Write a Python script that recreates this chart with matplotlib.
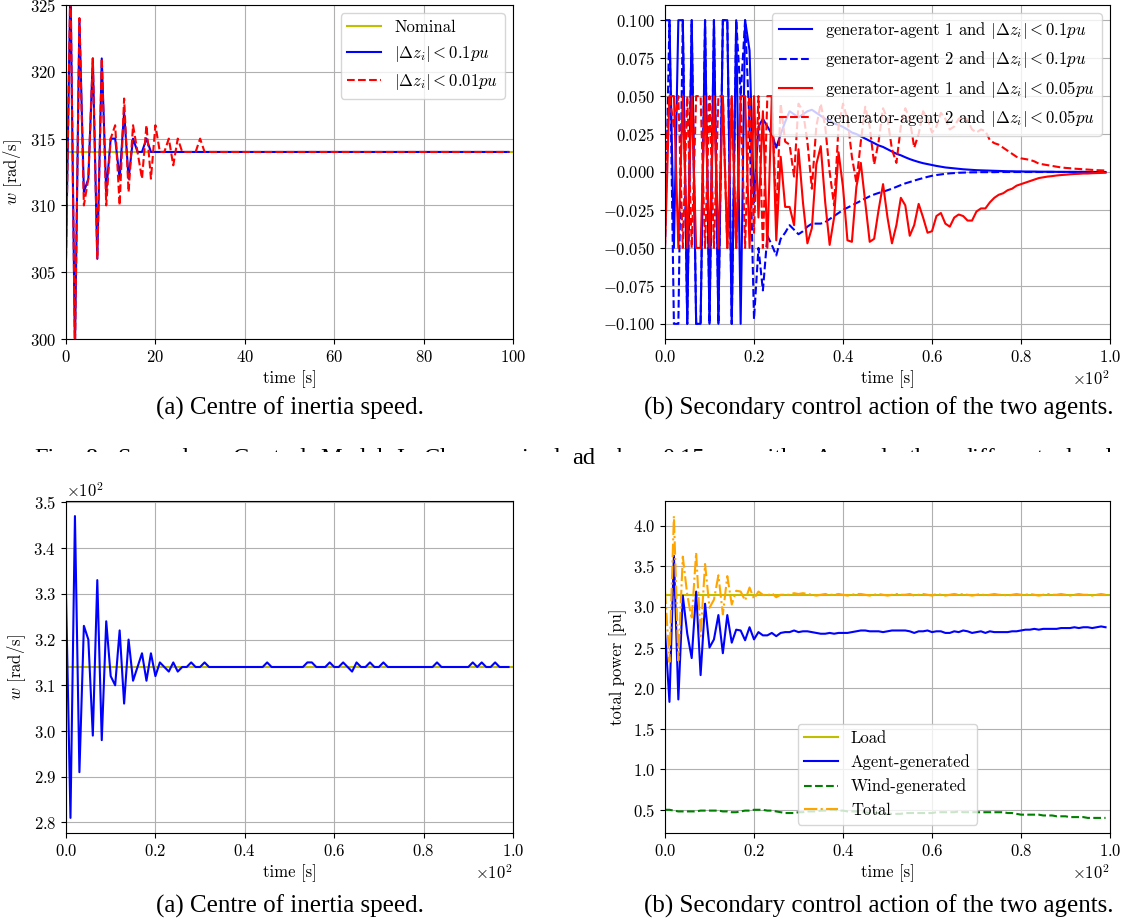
import numpy as np
import matplotlib
matplotlib.use("Agg")
import matplotlib.pyplot as plt
from matplotlib.transforms import Bbox

plt.rcParams.update({
    "font.family": "serif",
    "font.serif": ["cmr10"],
    "mathtext.fontset": "cm",
    "axes.formatter.use_mathtext": True,
    "font.size": 12,
})

# ---------------- data: (a) top, centre of inertia speed ----------------
nominal_top = 314
w_dz01 = [306, 327, 299, 324, 311, 312, 321, 306, 321, 311, 315, 315, 312, 317, 312, 315,
          314, 314, 315, 314] + [314] * 80
w_dz001 = [306, 327, 299, 324, 310, 312, 321, 306, 321, 310, 315, 316, 310, 318, 311, 316,
           314, 312, 316, 312, 316, 314, 314, 315, 313, 315, 314, 314, 314, 314, 315, 314] + [314] * 68

# ---------------- data: (b) top, secondary control action ----------------
ga1_01 = [0.1, 0.1, -0.05, 0.1, 0.1, -0.1, 0.1, -0.1, -0.1, 0.1, -0.1, 0.1, -0.1, 0.1, 0.1,
          -0.1, 0.1, -0.1, 0.1, 0.08, -0.02, 0.03, 0.035, 0.03, 0.025, 0.016, 0.025, 0.033,
          0.040, 0.038, 0.036, 0.038, 0.040, 0.041, 0.039, 0.037, 0.035, 0.034, 0.032, 0.031,
          0.0297, 0.028, 0.026, 0.025, 0.0235, 0.022, 0.0205, 0.019, 0.0175, 0.0165, 0.015,
          0.0135, 0.012, 0.011, 0.0097, 0.0085, 0.0075, 0.0066, 0.0058, 0.0052, 0.0046, 0.004,
          0.0035, 0.003, 0.0027, 0.0024, 0.0021, 0.0018, 0.0016, 0.0014, 0.0012, 0.0011, 0.001,
          0.0009, 0.0008, 0.0007, 0.0006, 0.0005, 0.0005, 0.0004, 0.0004, 0.0003, 0.0003,
          0.0003, 0.0002, 0.0002, 0.0002, 0.0002, 0.0001, 0.0001, 0.0001, 0.0001, 0.0001,
          0.0001, 0.0001, 0.0, 0.0, 0.0, 0.0, 0.0]
ga2_01 = [-0.05, 0.1, -0.1, -0.1, 0.1, -0.1, 0.1, -0.1, -0.1, 0.1, -0.1, 0.1, -0.1, 0.1, 0.1,
          -0.1, 0.1, 0.05, 0.1, 0.03, -0.097, -0.05, -0.078, -0.042, -0.048, -0.055, -0.044,
          -0.040, -0.035, -0.038, -0.041, -0.039, -0.036, -0.034, -0.034, -0.034, -0.033,
          -0.031, -0.029, -0.027, -0.025, -0.0235, -0.022, -0.0205, -0.019, -0.0175, -0.016,
          -0.0148, -0.0138, -0.013, -0.012, -0.011, -0.0098, -0.0086, -0.0075, -0.0066,
          -0.0057, -0.0048, -0.004, -0.0032, -0.0025, -0.002, -0.0016, -0.0012, -0.0009,
          -0.0007, -0.0005, -0.0004, -0.0003, -0.0002, -0.0002, -0.0001, -0.0001, -0.0001,
          -0.0001, 0.0, 0.0, 0.0, 0.0, 0.0, 0.0, 0.0, 0.0, 0.0, 0.0, 0.0, 0.0, 0.0, 0.0, 0.0,
          0.0, 0.0, 0.0, 0.0, 0.0, 0.0, 0.0, 0.0, 0.0, 0.0]
ga1_005 = [-0.05, 0.05, 0.05, -0.05, 0.05, -0.05, 0.05, -0.05, -0.05, 0.05, -0.05, 0.05, -0.05,
           0.05, -0.05, 0.05, -0.05, 0.05, 0.05, -0.05, 0.05, -0.03, 0.04, -0.05, 0.05, -0.045,
           0.01, -0.023, -0.023, -0.035, 0.015, -0.02, -0.047, -0.037, 0.005, 0.017, -0.02,
           -0.048, -0.03, 0.013, -0.01, -0.045, -0.046, -0.01, 0.006, -0.02, -0.046, -0.044,
           -0.025, -0.008, -0.03, -0.047, -0.035, -0.017, -0.022, -0.042, -0.035, -0.021,
           -0.03, -0.04, -0.039, -0.029, -0.027, -0.034, -0.036, -0.03, -0.028, -0.029, -0.032,
           -0.032, -0.026, -0.024, -0.024, -0.02, -0.017, -0.015, -0.014, -0.012, -0.011,
           -0.009, -0.008, -0.007, -0.006, -0.005, -0.004, -0.0035, -0.003, -0.0027, -0.0023,
           -0.002, -0.0018, -0.0015, -0.0013, -0.0012, -0.001, -0.001, -0.0008, -0.0007,
           -0.0006, -0.0005]
ga2_005 = [0.0, 0.05, 0.03, 0.05, -0.05, 0.05, -0.05, 0.05, 0.05, -0.05, 0.05, -0.05, 0.05,
           0.05, -0.05, 0.05, -0.05, 0.05, -0.05, 0.05, -0.04, 0.05, -0.05, 0.05, 0.05, -0.03,
           0.045, 0.02, 0.018, -0.003, 0.045, 0.04, 0.02, -0.011, 0.03, 0.045, 0.03, 0.0,
           -0.022, 0.03, 0.045, 0.035, 0.01, -0.007, 0.02, 0.043, 0.03, 0.005, 0.02, 0.042,
           0.035, 0.015, 0.006, 0.03, 0.042, 0.035, 0.016, 0.025, 0.04, 0.035, 0.026, 0.03,
           0.039, 0.035, 0.028, 0.03, 0.035, 0.037, 0.034, 0.028, 0.026, 0.028, 0.027, 0.021,
           0.019, 0.018, 0.016, 0.014, 0.012, 0.01, 0.009, 0.0085, 0.008, 0.007, 0.0055, 0.005,
           0.0045, 0.004, 0.0035, 0.003, 0.0027, 0.0025, 0.0022, 0.002, 0.0018, 0.0016, 0.0014,
           0.0012, 0.0011, 0.001]

# ---------------- data: (a) bottom, centre of inertia speed ----------------
nominal_bottom = 314
w_bottom = [330, 281, 347, 291, 323, 320, 299, 333, 298, 324, 312, 310, 322, 306, 320, 311,
            314, 317, 311, 317, 312, 315, 314, 313, 315, 313, 314, 314, 315, 314, 314, 315,
            314, 314, 314, 314, 314, 314, 314, 314, 314, 314, 314, 314, 314, 315, 314, 314,
            314, 314, 314, 314, 314, 314, 315, 315, 314, 314, 314, 315, 314, 314, 315, 314,
            313, 315, 314, 314, 315, 314, 314, 315, 314, 314, 314, 314, 314, 314, 314, 314,
            314, 314, 314, 315, 314, 314, 314, 314, 314, 314, 314, 315, 314, 315, 314, 314,
            315, 314, 314, 314]

# ---------------- data: (b) bottom, total power ----------------
load = 3.15
agent_gen = [2.70, 1.83, 3.63, 1.86, 3.14, 2.67, 2.37, 3.19, 2.16, 3.04, 2.50, 2.60, 2.90, 2.43,
             2.90, 2.56, 2.72, 2.71, 2.59, 2.75, 2.60, 2.69, 2.65, 2.65, 2.68, 2.64, 2.68,
             2.69, 2.69, 2.71, 2.69, 2.70, 2.70, 2.69, 2.68, 2.67, 2.67, 2.68, 2.67, 2.68,
             2.68, 2.68, 2.69, 2.70, 2.71, 2.71, 2.70, 2.70, 2.70, 2.69, 2.70, 2.71, 2.71,
             2.71, 2.71, 2.70, 2.68, 2.70, 2.70, 2.71, 2.69, 2.70, 2.70, 2.68, 2.68, 2.70,
             2.69, 2.71, 2.70, 2.68, 2.69, 2.70, 2.68, 2.70, 2.69, 2.69, 2.69, 2.69, 2.70,
             2.70, 2.71, 2.72, 2.72, 2.73, 2.72, 2.73, 2.73, 2.73, 2.73, 2.74, 2.74, 2.74,
             2.75, 2.74, 2.75, 2.75, 2.74, 2.75, 2.76, 2.75]
wind_gen = [0.50, 0.50, 0.49, 0.48, 0.48, 0.48, 0.48, 0.48, 0.49, 0.49, 0.49, 0.49, 0.49,
            0.48, 0.48, 0.47, 0.47, 0.48, 0.49, 0.49, 0.50, 0.50, 0.50, 0.49, 0.49, 0.48,
            0.47, 0.46, 0.46, 0.46, 0.47, 0.47, 0.48, 0.48, 0.48, 0.49, 0.49, 0.50, 0.50,
            0.49, 0.49, 0.48, 0.48, 0.48, 0.47, 0.47, 0.46, 0.46, 0.46, 0.45, 0.45, 0.45,
            0.45, 0.45, 0.46, 0.46, 0.46, 0.46, 0.46, 0.46, 0.46, 0.47, 0.47, 0.47, 0.47,
            0.47, 0.48, 0.47, 0.47, 0.47, 0.47, 0.47, 0.47, 0.47, 0.47, 0.47, 0.47, 0.46,
            0.46, 0.45, 0.44, 0.44, 0.44, 0.44, 0.44, 0.43, 0.43, 0.43, 0.42, 0.42, 0.42,
            0.41, 0.41, 0.41, 0.41, 0.40, 0.40, 0.40, 0.40, 0.40]
total_gen = [3.20, 2.32, 4.12, 2.34, 3.62, 3.15, 2.85, 3.67, 2.64, 3.53, 2.99, 3.09, 3.39,
             2.91, 3.38, 3.03, 3.20, 3.19, 3.08, 3.24, 3.10, 3.19, 3.15, 3.14, 3.17, 3.12,
             3.15, 3.15, 3.15, 3.17, 3.16, 3.17, 3.16, 3.15, 3.14, 3.15, 3.16, 3.15, 3.15,
             3.16, 3.15, 3.14, 3.15, 3.16, 3.16, 3.15, 3.14, 3.15, 3.16, 3.15, 3.14, 3.15,
             3.16, 3.15, 3.15, 3.16, 3.14, 3.15, 3.16, 3.15, 3.14, 3.16, 3.15, 3.14, 3.15,
             3.16, 3.15, 3.16, 3.15, 3.14, 3.15, 3.16, 3.14, 3.15, 3.16, 3.15, 3.15, 3.14,
             3.15, 3.16, 3.15, 3.15, 3.16, 3.15, 3.14, 3.15, 3.16, 3.15, 3.15, 3.16, 3.15,
             3.14, 3.15, 3.16, 3.15, 3.15, 3.14, 3.15, 3.16, 3.15]

caption_a = "(a) Centre of inertia speed."
caption_b = "(b) Secondary control action of the two agents."
# caption line of the page that is mostly hidden behind the lower figure;
# only "ad" (end of "load") is fully visible
hidden_words = ["Fig.", "8:", "Secondary", "Control", "Model", "I:", "Changes", "in", "lo|ad",
                "by", "0.15pu", "with", "\u0394", "and", "the", "different", "level"]

# ---------------- figure ----------------
W, H = 1125, 924
fig = plt.figure(figsize=(W / 100, H / 100), dpi=100)


def px_axes(left, top, right, bottom):
    return fig.add_axes([left / W, 1 - bottom / H, (right - left) / W, (bottom - top) / H])


ax1 = px_axes(66, 5, 513, 339)
ax2 = px_axes(665, 5, 1110, 339)
ax3 = px_axes(66, 501, 513, 833)
ax4 = px_axes(665, 501, 1110, 833)

# (a) top
ax1.axhline(nominal_top, color="y", label="Nominal")
ax1.plot(np.arange(len(w_dz01)), w_dz01, color="b", label=r"$|\Delta z_i| < 0.1pu$")
ax1.plot(np.arange(len(w_dz001)), w_dz001, color="r", ls="--", label=r"$|\Delta z_i| < 0.01pu$")
ax1.set_xlim(0, 100)
ax1.set_ylim(300, 325)
ax1.set_xlabel("time [s]")
ax1.set_ylabel(r"$w$ [rad/s]")
ax1.grid(True)
ax1.legend(loc="upper right")

# (b) top
ax2.plot(np.arange(len(ga1_01)), ga1_01, color="b", label=r"generator-agent 1 and $|\Delta z_i| < 0.1pu$")
ax2.plot(np.arange(len(ga2_01)), ga2_01, color="b", ls="--", label=r"generator-agent 2 and $|\Delta z_i| < 0.1pu$")
ax2.plot(np.arange(len(ga1_005)), ga1_005, color="r", label=r"generator-agent 1 and $|\Delta z_i| < 0.05pu$")
ax2.plot(np.arange(len(ga2_005)), ga2_005, color="r", ls="--", label=r"generator-agent 2 and $|\Delta z_i| < 0.05pu$")
ax2.set_xlim(0, 100)
ax2.set_ylim(-0.11, 0.11)
ax2.set_xlabel("time [s]")
ax2.ticklabel_format(axis="x", style="sci", scilimits=(0, 0))
ax2.grid(True)
ax2.legend(loc="upper right")

# (a) bottom
ax3.axhline(nominal_bottom, color="y")
ax3.plot(np.arange(len(w_bottom)), w_bottom, color="b")
ax3.set_xlim(0, 100)
ax3.set_ylim(277.7, 350.3)
ax3.set_xlabel("time [s]")
ax3.set_ylabel(r"$w$ [rad/s]")
ax3.ticklabel_format(axis="both", style="sci", scilimits=(0, 0))
ax3.grid(True)

# (b) bottom
ax4.axhline(load, color="y", label="Load")
ax4.plot(np.arange(len(agent_gen)), agent_gen, color="b", label="Agent-generated")
ax4.plot(np.arange(len(wind_gen)), wind_gen, color="g", ls="--", label="Wind-generated")
ax4.plot(np.arange(len(total_gen)), total_gen, color="orange", ls="-.", label="Total")
ax4.set_xlim(0, 100)
ax4.set_ylim(0.214, 4.306)
ax4.set_xlabel("time [s]")
ax4.set_ylabel("total power [pu]")
ax4.ticklabel_format(axis="x", style="sci", scilimits=(0, 0))
ax4.grid(True)
ax4.legend(loc="lower center")

# captions
cap_font = dict(family="Liberation Serif", fontsize=18, va="center")
fig.text(290 / W, 1 - 408 / H, caption_a, ha="center", **cap_font)
fig.text(1113 / W, 1 - 408 / H, caption_b, ha="right", **cap_font)
fig.text(290 / W, 1 - 906 / H, caption_a, ha="center", **cap_font)
fig.text(1113 / W, 1 - 906 / H, caption_b, ha="right", **cap_font)

# partially hidden, justified page caption line between the two rows
base_y = 1 - 464 / H
clip = Bbox.from_extents(0, H - 452, W, H)
renderer = fig.canvas.get_renderer()
hid_font = dict(family="Liberation Serif", fontsize=17.5, va="baseline", ha="left")
pieces = []
for wd in hidden_words:
    parts = wd.split("|")
    txts = [fig.text(0, base_y, p, **hid_font) for p in parts]
    pieces.append(txts)
widths = [[tx.get_window_extent(renderer).width for tx in txts] for txts in pieces]
split_idx = [i for i, txts in enumerate(pieces) if len(txts) > 1][0]
x_left, x_ad, x_right = 34, 572, 1113
# gap before the split word so that its visible tail lands at x_ad
w_before = sum(sum(w) for w in widths[:split_idx]) + widths[split_idx][0]
gap1 = (x_ad - x_left - w_before) / split_idx
w_after = sum(sum(w) for w in widths[split_idx + 1:]) + widths[split_idx][1]
gap2 = (x_right - x_ad - w_after) / (len(pieces) - 1 - split_idx)
xpos = x_left
for k, (txts, wl) in enumerate(zip(pieces, widths)):
    xp = xpos
    for i, (tx, w) in enumerate(zip(txts, wl)):
        tx.set_x(xp / W)
        if len(txts) == 1 or i == 0:
            tx.set_clip_on(True)
            tx.set_clip_box(clip)
        xp += w
    xpos = xp + (gap1 if k < split_idx else gap2)

fig.savefig("out.png", dpi=100)
